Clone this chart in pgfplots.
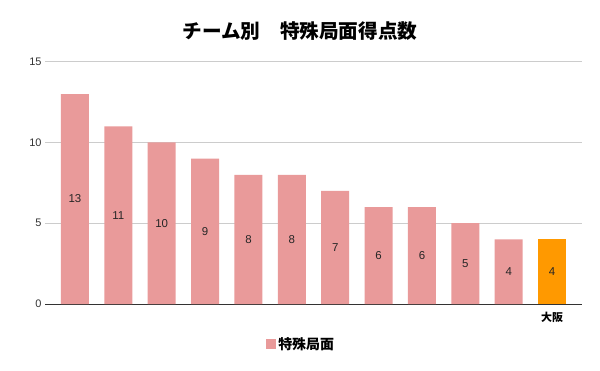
\documentclass[border=0pt]{standalone}
\usepackage{fontspec}
\setmainfont{Liberation Sans}
\newfontfamily\cjk{Noto Sans CJK JP}
\usepackage{pgfplots}
\pgfplotsset{compat=1.18}
\definecolor{barpink}{HTML}{E99A9A}
\definecolor{barorange}{HTML}{FF9900}
\definecolor{gridgray}{HTML}{CCCCCC}
\begin{document}
\begin{tikzpicture}
\path[use as bounding box] (-45bp,-67bp) rectangle (555bp,304bp);
\begin{axis}[
  at={(0,0)}, anchor=south west,
  scale only axis,
  width=537bp, height=242.3bp,
  xmin=-0.69, xmax=11.69,
  ymin=0, ymax=15,
  ytick={0,5,10,15},
  xtick={11}, xticklabels={{\cjk\bfseries 大阪}},
  x tick label style={font=\fontsize{11}{13}\selectfont, yshift=-5bp},
  y tick label style={font=\fontsize{11}{13}\selectfont, text=black!80},
  /pgf/number format/assume math mode=true,
  ymajorgrids, grid style={gridgray, line width=0.8pt},
  axis line style={draw=none},
  axis x line*=bottom,
  x axis line style={draw=black!80, line width=0.8pt},
  major tick length=0pt,
  tick style={draw=none},
  ybar, bar width=28bp, bar shift=0pt,
  legend style={at={(0.477,-0.165)}, anchor=center, draw=none, font=\cjk\bfseries\fontsize{14}{16}\selectfont},
  legend image code/.code={\fill[barpink] (-3bp,-5bp) rectangle (7bp,5bp);},
  clip=false,
]
\addplot[fill=barpink, draw=none] coordinates {(0,13) (1,11) (2,10) (3,9) (4,8) (5,8) (6,7) (7,6) (8,6) (9,5) (10,4)};
\addlegendentry{特殊局面}
\addplot[fill=barorange, draw=none, forget plot] coordinates {(11,4)};
\addplot[draw=none, mark=none, forget plot, only marks,
  point meta=explicit symbolic,
  nodes near coords, nodes near coords align=center,
  every node near coord/.append style={font=\fontsize{11.5}{13}\selectfont, text=black!85, anchor=center}]
  coordinates {(0,6.5)[13] (1,5.5)[11] (2,5)[10] (3,4.5)[9] (4,4)[8] (5,4)[8] (6,3.5)[7] (7,3)[6] (8,3)[6] (9,2.5)[5] (10,2)[4] (11,2)[4]};
\end{axis}
\node[font=\cjk\bfseries\fontsize{19.7}{23}\selectfont] at (255bp,273bp) {チーム別　特殊局面得点数};
\end{tikzpicture}
\end{document}
